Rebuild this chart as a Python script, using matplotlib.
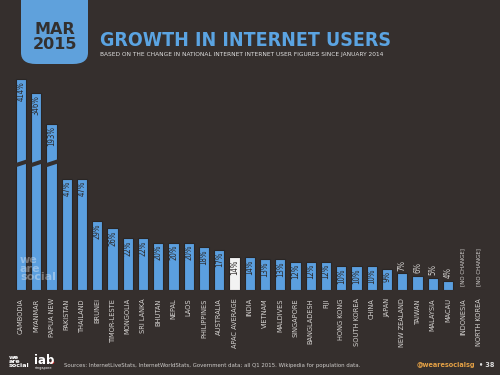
import numpy as np
import matplotlib.pyplot as plt
from matplotlib.patches import FancyBboxPatch, Polygon, Circle

countries = ['CAMBODIA', 'MYANMAR', 'PAPUA NEW', 'PAKISTAN', 'THAILAND', 'BRUNEI',
             'TIMOR-LESTE', 'MONGOLIA', 'SRI LANKA', 'BHUTAN', 'NEPAL', 'LAOS',
             'PHILIPPINES', 'AUSTRALIA', 'APAC AVERAGE', 'INDIA', 'VIETNAM', 'MALDIVES',
             'SINGAPORE', 'BANGLADESH', 'FIJI', 'HONG KONG', 'SOUTH KOREA', 'CHINA',
             'JAPAN', 'NEW ZEALAND', 'TAIWAN', 'MALAYSIA', 'MACAU', 'INDONESIA',
             'NORTH KOREA']
growth = [414, 346, 193, 47, 47, 29, 26, 22, 22, 20, 20, 20, 18, 17, 14, 14, 13, 13,
          12, 12, 12, 10, 10, 10, 9, 7, 6, 5, 4, 0, 0]

BG = '#352f2d'
BLUE = '#5b9fdf'
DARK = '#2c2827'
LIGHT = '#d4d2d0'
cond = dict(family='DejaVu Sans', fontstretch='condensed')

def shown(v):
    # broken axis: very large values are compressed above the break
    return v if v <= 100 else 53.4 + 0.086 * v

fig = plt.figure(figsize=(5, 3.75), dpi=100, facecolor=BG)
ax = fig.add_axes([0, 85 / 375, 1, 230 / 375])
ax.set_facecolor(BG)
ax.set_xlim(-21 / 15.25, (500 - 21) / 15.25)
ax.set_ylim(0, 230 / 2.37)
for s in ax.spines.values():
    s.set_visible(False)

x = np.arange(len(countries))
heights = [shown(v) for v in growth]
colors = ['#f2f2f2' if c == 'APAC AVERAGE' else BLUE for c in countries]
w = 0.66
ax.bar(x, heights, width=w, color=colors, edgecolor='#2a2625', linewidth=0.8)

# break marks on the compressed bars
for i, v in enumerate(growth):
    if v > 100:
        ax.add_patch(Polygon([(i - w / 2 - 0.1, 51.6), (i + w / 2 + 0.1, 53.4),
                              (i + w / 2 + 0.1, 55.2), (i - w / 2 - 0.1, 53.4)],
                             closed=True, facecolor=BG, edgecolor='none', zorder=3))

for i, v in enumerate(growth):
    h = heights[i]
    if v == 0:
        ax.text(i, 1.5, '[NO CHANGE]', rotation=90, ha='center', va='bottom',
                fontsize=4.4, color=LIGHT, **cond)
    elif v < 9:
        ax.text(i, h + 1.2, f'{v}%', rotation=90, ha='center', va='bottom',
                fontsize=5.6, color=LIGHT, **cond)
    else:
        ax.text(i, h - 1.0, f'{v}%', rotation=90, ha='center', va='top',
                fontsize=5.6, color=DARK, **cond)

ax.set_xticks(x)
ax.set_xticklabels(countries, rotation=90, va='top', ha='center', fontsize=5.3,
                   color=LIGHT, **cond)
ax.tick_params(axis='x', length=0, pad=6)
ax.set_yticks([])

# watermark
fig.text(20 / 500, 1 - 282 / 375, 'we\nare\nsocial', fontsize=8, fontweight='bold',
         color='white', alpha=0.35, linespacing=0.8, ha='left', va='bottom')

# header
tab = FancyBboxPatch((21 / 500, 1 - 64 / 375), 67 / 500, 80 / 375,
                     boxstyle='round,pad=0,rounding_size=0.03', transform=fig.transFigure,
                     facecolor='#5fa1dc', edgecolor='none')
fig.patches.append(tab)
fig.text(55 / 500, 1 - 37 / 375, 'MAR\n2015', ha='center', va='center', fontsize=11.5,
         fontweight='bold', color='#33302f', linespacing=0.95)
fig.text(100 / 500, 1 - 46 / 375, 'GROWTH IN INTERNET USERS', ha='left', va='baseline',
         fontsize=14, fontweight='bold', color='#5ba4e2', **cond)
fig.text(100 / 500, 1 - 56 / 375,
         'BASED ON THE CHANGE IN NATIONAL INTERNET INTERNET USER FIGURES SINCE JANUARY 2014',
         ha='left', va='baseline', fontsize=4.2, color='#e0e0e0')

# footer
fig.text(9 / 500, 1 - 368 / 375, 'we\nare\nsocial', fontsize=4.6, fontweight='bold',
         color='white', linespacing=0.8, ha='left', va='bottom')
fig.text(34 / 500, 1 - 364 / 375, 'iab', fontsize=8.5, fontweight='bold', color='white',
         ha='left', va='baseline')
fig.patches.append(Circle((52.5 / 500, 1 - 362.5 / 375), 1.8 / 500,
                          transform=fig.transFigure, facecolor='#e02020',
                          edgecolor='none'))
fig.text(35 / 500, 1 - 369 / 375, 'singapore', fontsize=2.5, color='white',
         ha='left', va='baseline')
fig.text(64 / 500, 1 - 367 / 375,
         'Sources: InternetLiveStats, InternetWorldStats, Government data; all Q1 2015. '
         'Wikipedia for population data.',
         fontsize=4.3, color='#cfcdcb', ha='left', va='baseline', **cond)
fig.text(417 / 500, 1 - 367 / 375, '@wearesocialsg', fontsize=5.2, fontweight='bold',
         color='#e3a045', ha='left', va='baseline', **cond)
fig.text(479 / 500, 1 - 367 / 375, '\u2022 38', fontsize=5.2, fontweight='bold',
         color='#dcdcdc', ha='left', va='baseline', **cond)

fig.savefig('out.png', dpi=100, facecolor=BG)
